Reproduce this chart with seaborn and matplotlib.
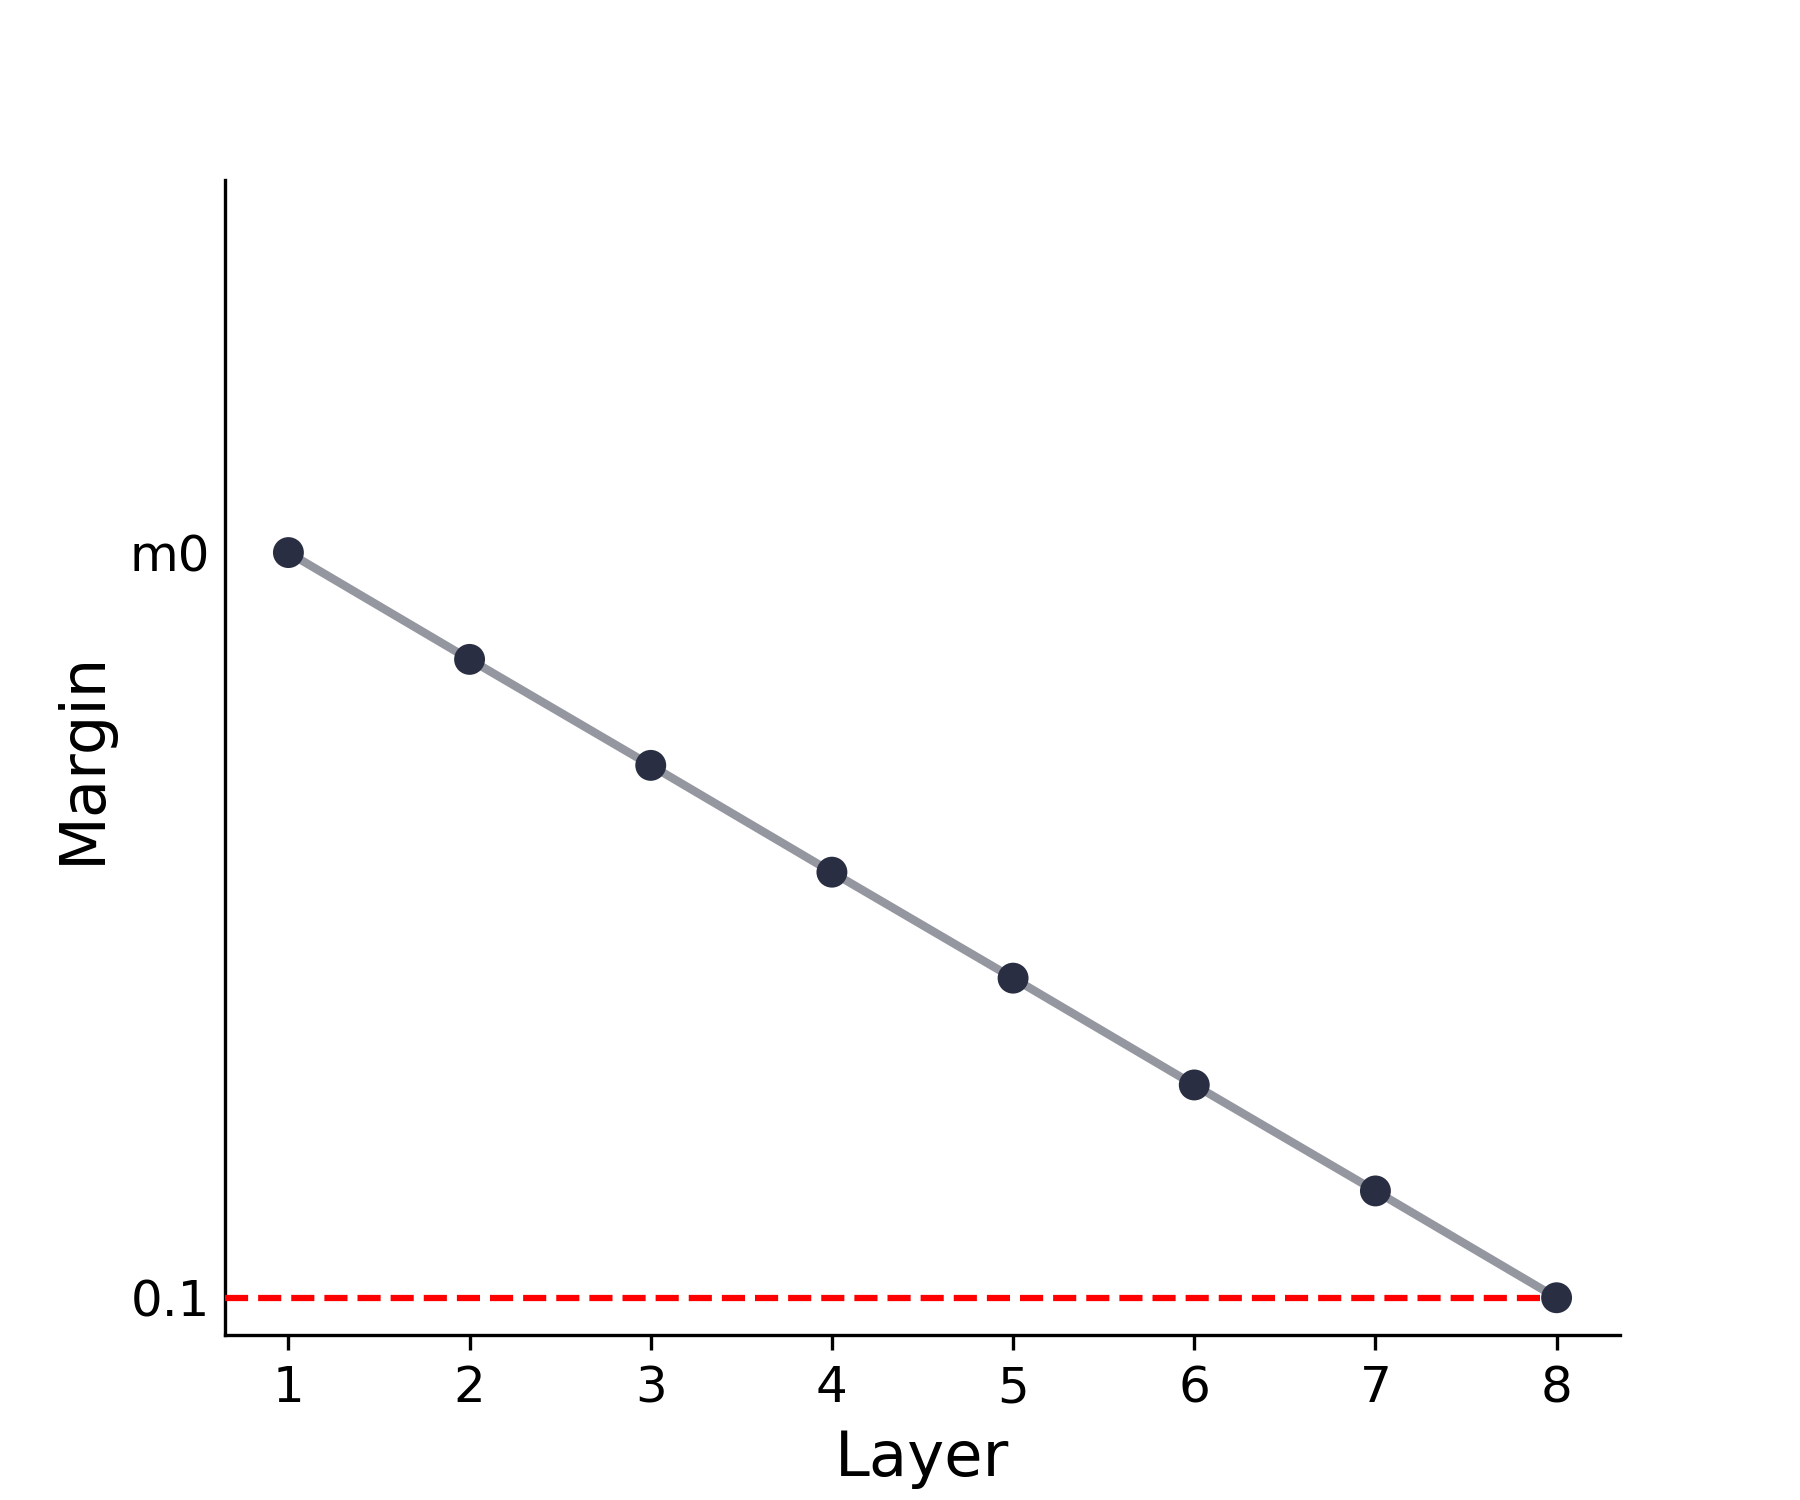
import pandas as pd
import matplotlib
matplotlib.use('Agg')
import matplotlib.pyplot as plt
import seaborn as sns

# Dados: margem por camada (m0 normalizado para 1.0)
layers = [1, 2, 3, 4, 5, 6, 7, 8]
margins = [1.0, 0.871, 0.743, 0.614, 0.486, 0.357, 0.229, 0.1]
ytick_vals = [0.1, 1.0]
ytick_labels = ['0.1', 'm0']
min_margin = 0.1

df = pd.DataFrame({'Layer': layers, 'Margin': margins})

fig, ax = plt.subplots(figsize=(6, 5), dpi=300)

# linha cinza + marcadores escuros
sns.lineplot(x='Layer', y='Margin', data=df, ax=ax, color='#2a2e42', alpha=0.5,
             linewidth=2, zorder=2)
sns.scatterplot(x='Layer', y='Margin', data=df, ax=ax, color='#2a2e42', s=55,
                edgecolor='none', zorder=4)

ax.set_xlim(0.65, 8.35)
ax.set_ylim(0.055, 1.45)
ax.hlines(min_margin, 0.65, 8, colors='red', linestyles='--', linewidth=1.5, zorder=3)

ax.set_xticks(layers)
ax.set_yticks(ytick_vals)
ax.set_yticklabels(ytick_labels)
ax.tick_params(axis='both', labelsize=12)
ax.tick_params(axis='y', length=0, pad=3.5)

ax.set_xlabel('Layer', fontsize=15)
ax.set_ylabel('Margin', fontsize=15)
sns.despine(ax=ax)

plt.savefig('out.png')
